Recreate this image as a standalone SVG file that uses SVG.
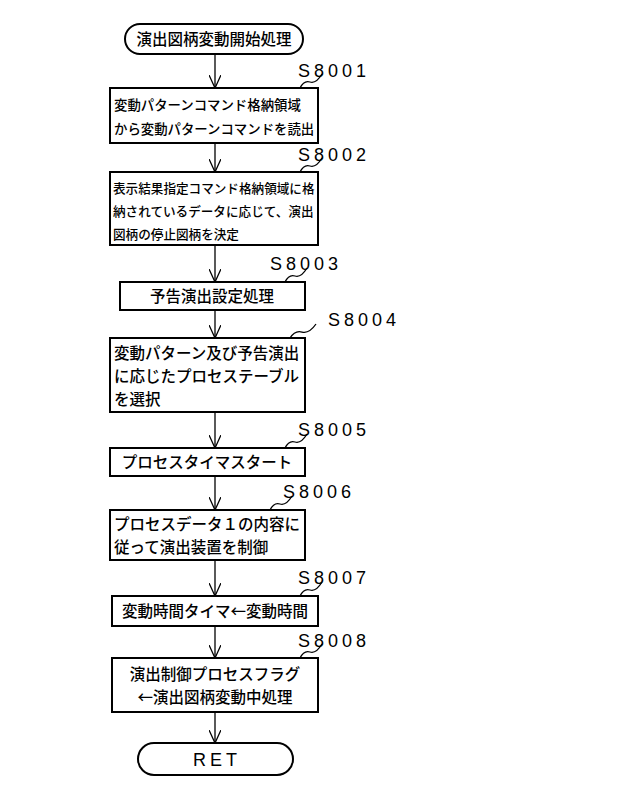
<svg xmlns="http://www.w3.org/2000/svg" width="640" height="809" viewBox="0 0 640 809">
<defs><marker id="a" markerWidth="14" markerHeight="12" refX="13" refY="6" orient="auto" markerUnits="userSpaceOnUse"><path d="M0,0 L13,6 L0,12" fill="none" stroke="#000" stroke-width="1.3"/></marker></defs>
<style>
.b{fill:#fff;stroke:#000;stroke-width:2}
.t{font-family:"Noto Sans CJK JP",sans-serif;font-size:15.5px;font-weight:500;fill:#000}
.s{font-size:13.4px}
.u{font-size:12.6px}
.l{font-family:"Liberation Sans",sans-serif;font-size:18px;fill:#000;letter-spacing:4px}
.c{fill:none;stroke:#000;stroke-width:1.3}
</style>
<rect width="640" height="809" fill="#fff"/>
<g id="connectors">
<line class="c" x1="215" y1="54" x2="215" y2="88" marker-end="url(#a)"/>
<line class="c" x1="215" y1="143" x2="215" y2="172" marker-end="url(#a)"/>
<line class="c" x1="215" y1="245" x2="215" y2="282" marker-end="url(#a)"/>
<line class="c" x1="215" y1="310" x2="215" y2="338" marker-end="url(#a)"/>
<line class="c" x1="215" y1="412" x2="215" y2="448" marker-end="url(#a)"/>
<line class="c" x1="215" y1="476" x2="215" y2="510" marker-end="url(#a)"/>
<line class="c" x1="215" y1="560" x2="215" y2="596" marker-end="url(#a)"/>
<line class="c" x1="215" y1="626" x2="215" y2="658" marker-end="url(#a)"/>
<line class="c" x1="215" y1="712" x2="215" y2="743" marker-end="url(#a)"/>
<path class="c" d="M300,88 q4,-8 10,-6 t12,-8"/>
<path class="c" d="M300,172 q4,-8 10,-6 t12,-8"/>
<path class="c" d="M285,282 q4,-8 10,-6 t12,-8"/>
<path class="c" d="M290,338 q5,-8 12,-6 t14,-8"/>
<path class="c" d="M285,448 q4,-8 10,-6 t12,-8"/>
<path class="c" d="M270,510 q4,-8 10,-6 t12,-8"/>
<path class="c" d="M300,596 q4,-8 10,-6 t12,-8"/>
<path class="c" d="M300,658 q4,-8 10,-6 t12,-8"/>
</g>
<g id="start"><rect class="b" x="125" y="24" width="178" height="30" rx="15"/><text class="t" x="214" y="45" text-anchor="middle">演出図柄変動開始処理</text></g>
<g id="s8001"><text class="l" x="298" y="77">S8001</text><rect class="b" x="110" y="88" width="208" height="55"/><text class="t s" x="114" y="110">変動パターンコマンド格納領域</text><text class="t s" x="114" y="134">から変動パターンコマンドを読出</text></g>
<g id="s8002"><text class="l" x="298" y="161">S8002</text><rect class="b" x="110" y="172" width="208" height="73"/><text class="t u" x="113" y="193">表示結果指定コマンド格納領域に格</text><text class="t u" x="113" y="216">納されているデータに応じて、演出</text><text class="t u" x="113" y="239">図柄の停止図柄を決定</text></g>
<g id="s8003"><text class="l" x="270" y="270">S8003</text><rect class="b" x="120" y="282" width="185" height="28"/><text class="t" x="212" y="302" text-anchor="middle">予告演出設定処理</text></g>
<g id="s8004"><text class="l" x="328" y="326">S8004</text><rect class="b" x="110" y="338" width="195" height="74"/><text class="t" x="114" y="359">変動パターン及び予告演出</text><text class="t" x="114" y="382">に応じたプロセステーブル</text><text class="t" x="114" y="405">を選択</text></g>
<g id="s8005"><text class="l" x="298" y="436">S8005</text><rect class="b" x="110" y="448" width="195" height="28"/><text class="t" x="207" y="468" text-anchor="middle">プロセスタイマスタート</text></g>
<g id="s8006"><text class="l" x="283" y="498">S8006</text><rect class="b" x="110" y="510" width="195" height="50"/><text class="t" x="114" y="530">プロセスデータ１の内容に</text><text class="t" x="114" y="553">従って演出装置を制御</text></g>
<g id="s8007"><text class="l" x="298" y="584">S8007</text><rect class="b" x="112" y="596" width="206" height="30"/><text class="t" x="215" y="617" text-anchor="middle">変動時間タイマ←変動時間</text></g>
<g id="s8008"><text class="l" x="298" y="647">S8008</text><rect class="b" x="112" y="658" width="206" height="54"/><text class="t" x="215" y="680" text-anchor="middle">演出制御プロセスフラグ</text><text class="t" x="215" y="703" text-anchor="middle">←演出図柄変動中処理</text></g>
<g id="ret"><rect class="b" x="138" y="743" width="155" height="32" rx="16"/><text class="l" x="217" y="766" text-anchor="middle">RET</text></g>
</svg>
